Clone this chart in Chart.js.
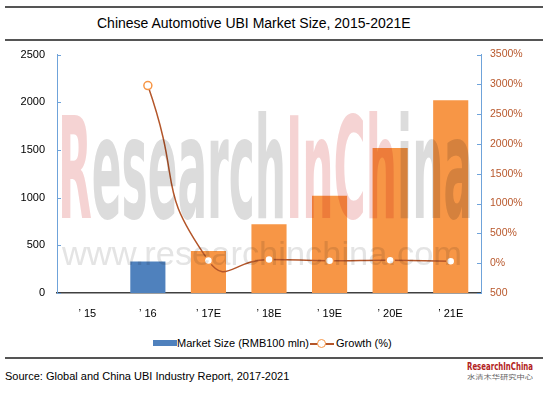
<!DOCTYPE html>
<html>
<head>
<meta charset="utf-8">
<script src="https://cdn.jsdelivr.net/npm/chart.js@4/dist/chart.umd.min.js"></script>
<style>
  html, body { margin: 0; padding: 0; background: #fff; }
  body { width: 548px; height: 393px; position: relative; overflow: hidden; font-family: "Liberation Sans", Arial, sans-serif; }
  .rule { position: absolute; left: 5px; width: 538px; height: 2px; background: #555; }
  #title { position: absolute; top: 15px; left: 97px; font-size: 14px; color: #000; white-space: nowrap; }
  #chart-wrap { position: absolute; left: 0; top: 36px; width: 548px; height: 296px; }
  #legend { position: absolute; top: 337px; left: 153px; font-size: 11px; color: #000; display: flex; align-items: center; white-space: nowrap; }
  .legend-box { display: inline-block; width: 24px; height: 6px; background: #4F81BD; }
  .legend-line { display: inline-block; position: relative; width: 24px; height: 10px; margin: 0 2px 0 1px; }
  .legend-line::before { content: ''; position: absolute; left: 0; right: 0; top: 5px; height: 1.5px; background: #B4562A; }
  .legend-line::after { content: ''; position: absolute; left: 7px; top: 1px; width: 7px; height: 7px; border: 1.5px solid #F79646; border-radius: 50%; background: #fff; }
  #source { position: absolute; top: 370px; left: 5px; font-size: 11px; color: #000; }
  .wm { position: absolute; white-space: nowrap; pointer-events: none; transform-origin: 0 0; }
  #wm-big { font-family: "DejaVu Sans Condensed", sans-serif; font-weight: bold; font-size: 100px; line-height: 100px; color: #dcdcdc; mix-blend-mode: multiply; }
  #wm-big .pk { color: #f5d3d3; }
  #wm-url { font-family: "Liberation Sans", Arial, sans-serif; font-size: 40px; line-height: 40px; color: #e4e4e4; mix-blend-mode: multiply; }
  #logo-en { font-family: "DejaVu Sans Condensed", sans-serif; font-weight: bold; font-size: 12px; line-height: 12px; color: #B22222; }
  #logo-cn { font-family: "Noto Sans CJK SC", sans-serif; font-size: 8px; line-height: 8px; color: #666; }
</style>
</head>
<body>
<div class="rule" style="top:6px"></div>
<div id="title">Chinese Automotive UBI Market Size, 2015-2021E</div>
<div class="rule" style="top:39px"></div>

<div id="chart-wrap"><canvas id="chart"></canvas></div>

<div id="wm-big" class="wm"><span class="pk">R</span>esearch<span class="pk">InCh</span>ina</div>
<div id="wm-url" class="wm">www.researchinchina.com</div>

<div id="legend">
  <span class="legend-box"></span><span>Market Size (RMB100 mln)</span><span class="legend-line"></span><span>Growth (%)</span>
</div>

<div class="rule" style="top:357px"></div>
<div id="source">Source: Global and China UBI Industry Report, 2017-2021</div>
<div id="logo-en" class="wm">ResearchInChina</div>
<div id="logo-cn" class="wm">水清木华研究中心</div>

<script>
const years = ['\u2019 15', '\u2019 16', '\u2019 17E', '\u2019 18E', '\u2019 19E', '\u2019 20E', '\u2019 21E'];
const marketSize = [0, 330, 440, 720, 1020, 1520, 2020];
const growth = [null, 2980, 44, 61, 42, 49, 33];
const barColors = ['#4F81BD', '#4F81BD', '#F79646', '#F79646', '#F79646', '#F79646', '#F79646'];
const leftTicks = [0, 500, 1000, 1500, 2000, 2500];
const rightTicks = [-500, 0, 500, 1000, 1500, 2000, 2500, 3000, 3500];

const AXIS_BLUE = '#6FA3DA';
const RIGHT_TEXT = '#B8572B';

// small inward tick marks on both value axes
const innerTicks = {
  id: 'innerTicks',
  afterDatasetsDraw(chart) {
    const { ctx, scales } = chart;
    ctx.save();
    ctx.strokeStyle = AXIS_BLUE;
    ctx.lineWidth = 1;
    leftTicks.forEach((v) => {
      const y = Math.round(scales.y.getPixelForValue(v)) + 0.5;
      ctx.beginPath();
      ctx.moveTo(scales.y.right, y);
      ctx.lineTo(scales.y.right + 4, y);
      ctx.stroke();
    });
    rightTicks.forEach((v) => {
      const y = Math.round(scales.y1.getPixelForValue(v)) + 0.5;
      ctx.beginPath();
      ctx.moveTo(scales.y1.left - 4, y);
      ctx.lineTo(scales.y1.left, y);
      ctx.stroke();
    });
    ctx.restore();
  },
};

const ctx = document.getElementById('chart').getContext('2d');
new Chart(ctx, {
  data: {
    labels: years,
    datasets: [
      {
        type: 'line',
        data: growth,
        yAxisID: 'y1',
        borderColor: '#B4562A',
        borderWidth: 1.5,
        tension: 0.6,
        pointRadius: 4,
        pointBorderWidth: 1.5,
        pointBackgroundColor: '#FFFFFF',
        pointBorderColor: '#F79646',
        order: 0,
      },
      {
        type: 'bar',
        data: marketSize,
        yAxisID: 'y',
        backgroundColor: barColors,
        barPercentage: 0.58,
        categoryPercentage: 1,
        order: 1,
      },
    ],
  },
  options: {
    responsive: true,
    maintainAspectRatio: false,
    animation: false,
    layout: { padding: { top: 8, left: 0, right: 0, bottom: 0 } },
    plugins: { legend: { display: false }, tooltip: { enabled: false } },
    scales: {
      x: {
        grid: { display: false, drawTicks: false },
        border: { color: '#404040', width: 1.5 },
        ticks: { color: '#000', padding: 14, font: { family: 'Liberation Sans', size: 11 } },
        afterFit: (s) => { s.height = 39; },
      },
      y: {
        position: 'left',
        min: 0,
        max: 2500,
        afterBuildTicks: (s) => { s.ticks = leftTicks.map((v) => ({ value: v })); },
        grid: { display: false, drawTicks: false },
        border: { color: AXIS_BLUE, width: 1 },
        ticks: {
          color: '#000',
          padding: 12,
          font: { family: 'Liberation Sans', size: 11 },
          callback: (v) => String(v),
        },
        afterFit: (s) => { s.width = 57; },
      },
      y1: {
        position: 'right',
        min: -500,
        max: 3500,
        afterBuildTicks: (s) => { s.ticks = rightTicks.map((v) => ({ value: v })); },
        grid: { display: false, drawTicks: false },
        border: { color: AXIS_BLUE, width: 1 },
        ticks: {
          color: RIGHT_TEXT,
          padding: 9,
          font: { family: 'Liberation Sans', size: 10.5 },
          callback: (v) => (v < 0 ? String(-v) : v + '%'),
        },
        afterFit: (s) => { s.width = 67; },
      },
    },
  },
  plugins: [innerTicks],
});

// stretch the watermark and logo texts into their boxes
function fitBox(el, x, y, w, h) {
  const r = el.getBoundingClientRect();
  el.style.left = x + 'px';
  el.style.top = y + 'px';
  el.style.transform = `scale(${w / r.width}, ${h / r.height})`;
}
fitBox(document.getElementById('wm-big'), 58, 100, 415, 140);
fitBox(document.getElementById('wm-url'), 62, 236, 400, 34);
fitBox(document.getElementById('logo-en'), 467, 361, 66, 11);
fitBox(document.getElementById('logo-cn'), 467, 374, 66, 6);
</script>
</body>
</html>
